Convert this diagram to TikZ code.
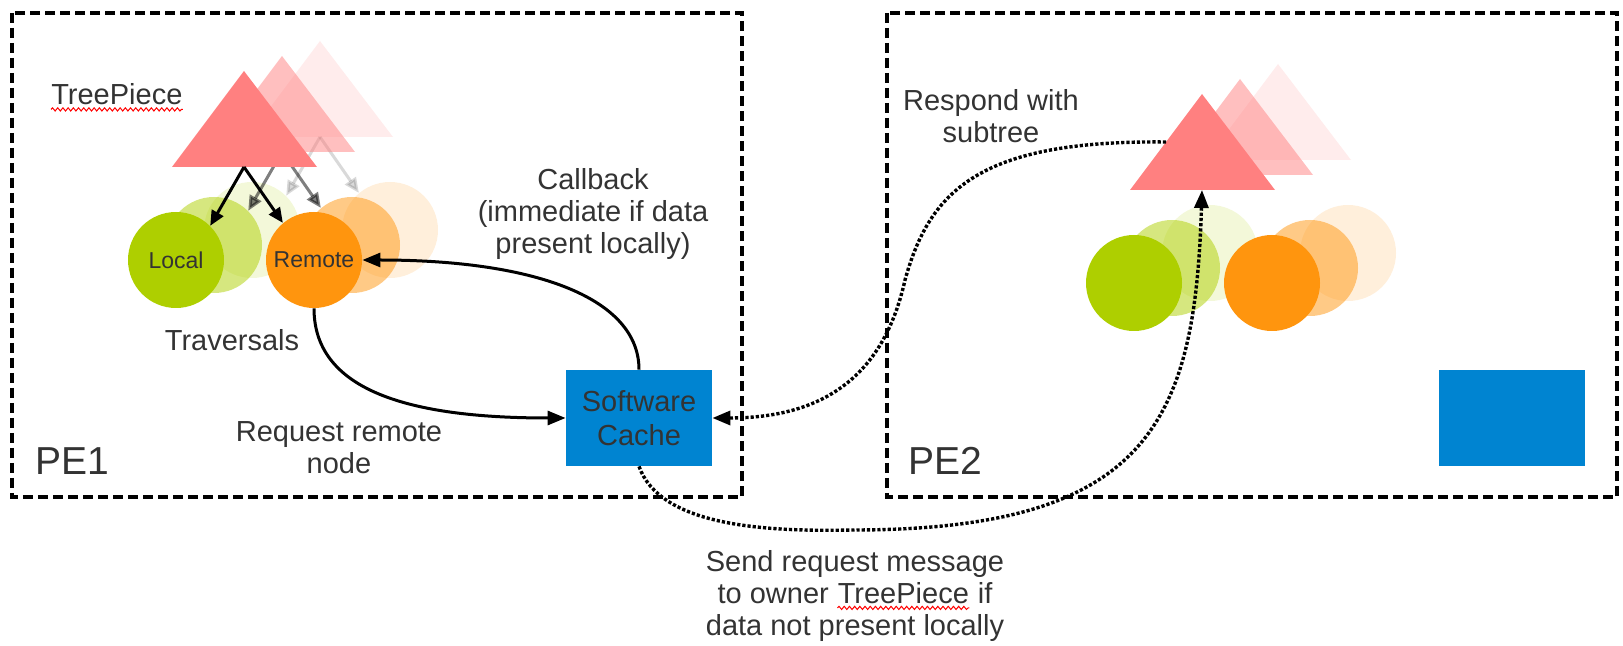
\documentclass[tikz,border=0pt]{standalone}
\usepackage{fontspec}
\setmainfont{Liberation Sans}
\usetikzlibrary{arrows.meta, decorations.pathmorphing}

\definecolor{txtgray}{HTML}{333333}
\definecolor{treered}{HTML}{FF8080}
\definecolor{localgreen}{HTML}{AECF00}
\definecolor{remoteorange}{HTML}{FF950E}
\definecolor{cacheblue}{HTML}{0084D1}

% red spell-check wave under a word
\newcommand\spellwave[1]{\tikz[baseline=(spellw.base)]{%
  \node[inner sep=0pt, text=txtgray] (spellw) {#1};
  \draw[red, line width=0.5pt, decorate, decoration={snake, segment length=2.6pt, amplitude=0.8pt}]
    ([yshift=-2.2pt]spellw.base west) -- ([yshift=-2.2pt]spellw.base east);}}

\tikzset{
  pebox/.style={draw=black, line width=2pt, dash pattern=on 5pt off 2.5pt},
  lbl/.style={text=txtgray, font=\fontsize{14.5}{16}\selectfont, align=center, inner sep=0pt},
  pelbl/.style={text=txtgray, font=\fontsize{19.5}{23}\selectfont, inner sep=0pt},
  trav/.style={circle, minimum size=48pt, inner sep=0pt, text=txtgray, font=\fontsize{11.5}{13}\selectfont},
  cachebox/.style={fill=cacheblue, minimum width=73pt, minimum height=48pt, inner sep=0pt,
    text=txtgray, align=center, font=\fontsize{14.5}{17}\selectfont},
  child/.style={line width=1.5pt, -{Triangle[length=7.5pt,width=6.5pt]}},
  link/.style={line width=1.5pt, -{Triangle[length=9pt,width=7pt]}},
  msg/.style={link, line width=1.7pt, dash pattern=on 1.6pt off 1pt},
}

\begin{document}
\begin{tikzpicture}[x=0.5pt, y=-0.5pt]
  \useasboundingbox (0,0) rectangle (1623,646);

  % --- processor boxes ---
  \draw[pebox] (12,13) rectangle (742,497);
  \draw[pebox] (887,13) rectangle (1617,497);
  \node[pelbl, anchor=base west] (pe1) at (35,475) {PE1};
  \node[pelbl, anchor=base west] (pe2) at (908,475) {PE2};

  % --- PE1: faded copies behind ---
  \foreach \i/\op in {2/0.15, 1/0.5} {
    \begin{scope}[shift={(38*\i,-15*\i)}, opacity=\op]
      \fill[treered] (172,167) -- (244,71) -- (317,167) -- cycle;
      \coordinate (tb\i) at (244,167);
      \node[trav, fill=localgreen] (loc\i) at (176,260) {};
      \node[trav, fill=remoteorange] (rem\i) at (314,260) {};
      \draw[child] (tb\i) -- (loc\i.45);
      \draw[child] (tb\i) -- (rem\i.130);
    \end{scope}
  }

  % --- PE1: front TreePiece and traversals ---
  \fill[treered] (172,167) -- (244,71) -- (317,167) -- cycle;
  \coordinate (tb0) at (244,167);
  \node[trav, fill=localgreen] (local) at (176,260) {Local};
  \node[trav, fill=remoteorange] (remote) at (314,260) {Remote};
  \draw[child] (tb0) -- (local.45);
  \draw[child] (tb0) -- (remote.130);

  % --- PE2: same group, no arrows ---
  \begin{scope}[shift={(958,23)}]
    \foreach \i/\op in {2/0.15, 1/0.5} {
      \begin{scope}[shift={(38*\i,-15*\i)}, opacity=\op]
        \fill[treered] (172,167) -- (244,71) -- (317,167) -- cycle;
        \node[trav, fill=localgreen] (locb\i) at (176,260) {};
        \node[trav, fill=remoteorange] (remb\i) at (314,260) {};
      \end{scope}
    }
    \fill[treered] (172,167) -- (244,71) -- (317,167) -- cycle;
    \coordinate (owner) at (244,167);
    \coordinate (ownerside) at (208,119);
    \node[trav, fill=localgreen] (localb) at (176,260) {};
    \node[trav, fill=remoteorange] (remoteb) at (314,260) {};
  \end{scope}

  % --- caches ---
  \node[cachebox] (cache) at (639,418) {Software\\Cache};
  \node[cachebox] (cacheb) at (1512,418) {};

  % --- labels ---
  \node[lbl, anchor=base west] (tplabel) at (50,105) {\spellwave{TreePiece}};
  \node[lbl] (travlbl) at (232,340) {Traversals};
  \node[lbl] (cblbl) at (593,214) {Callback\\(immediate if data\\present locally)};
  \node[lbl] (reqlbl) at (339,448) {Request remote\\node};
  \node[lbl] (resplbl) at (991,116) {Respond with\\subtree};
  \node[lbl] (sendlbl) at (855,596) {Send request message\\to owner \spellwave{TreePiece} if\\data not present locally};

  % --- connectors ---
  \draw[link] (remote.south) .. controls (314,395) and (420,418) .. (cache.west);
  \draw[link] (cache.north) .. controls (639,300) and (540,260) .. (remote.east);
  \draw[msg] (ownerside) .. controls (980,140) and (930,190) .. (905,280)
    .. controls (885,370) and (830,418) .. (cache.east);
  \draw[msg] (cache.south) .. controls (660,525) and (760,532) .. (853,530)
    .. controls (1150,530) and (1195,420) .. (owner);
\end{tikzpicture}
\end{document}
